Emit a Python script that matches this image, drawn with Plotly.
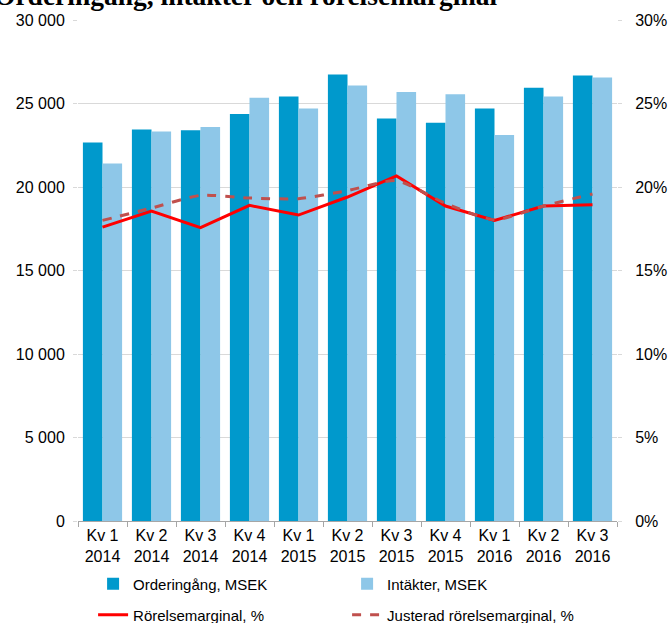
import plotly.graph_objects as go

categories = ["Kv 1<br>2014", "Kv 2<br>2014", "Kv 3<br>2014", "Kv 4<br>2014",
              "Kv 1<br>2015", "Kv 2<br>2015", "Kv 3<br>2015", "Kv 4<br>2015",
              "Kv 1<br>2016", "Kv 2<br>2016", "Kv 3<br>2016"]
orderingang = [22670, 23450, 23400, 24370, 25420, 26740, 24100, 23850, 24700, 25950, 26680]
intakter = [21400, 23330, 23590, 25340, 24700, 26080, 25690, 25560, 23110, 25420, 26550]
rorelsemarginal = [17.6, 18.56, 17.57, 18.9, 18.32, 19.4, 20.66, 18.86, 18.0, 18.86, 18.94]
justerad = [18.0, 18.74, 19.5, 19.34, 19.3, 19.78, 20.38, 19.02, 18.04, 18.86, 19.58]
title_text = "Orderingång, intäkter och rörelsemarginal"

font = "Liberation Sans, Arial, sans-serif"

fig = go.Figure()
fig.add_trace(go.Bar(x=categories, y=orderingang, name="Orderingång, MSEK",
                     marker=dict(color="#0099CC", line=dict(width=0)), legend="legend"))
fig.add_trace(go.Bar(x=categories, y=intakter, name="Intäkter, MSEK",
                     marker=dict(color="#8EC7E8", line=dict(width=0)), legend="legend"))
fig.add_trace(go.Scatter(x=categories, y=rorelsemarginal, name="Rörelsemarginal, %",
                         mode="lines", line=dict(color="#FF0000", width=3),
                         yaxis="y2", legend="legend2"))
fig.add_trace(go.Scatter(x=categories, y=justerad, name="Justerad rörelsemarginal, %",
                         mode="lines", line=dict(color="#C0504D", width=3, dash="dash",
                                                 shape="spline", smoothing=0.6),
                         yaxis="y2", legend="legend2"))

fig.add_annotation(text="<b>" + title_text + "</b>", xref="paper", yref="paper",
                   x=-0.16, y=1 + 25 / 501, xanchor="left", yanchor="middle",
                   showarrow=False,
                   font=dict(family="Liberation Serif, Times New Roman, serif", size=27.5, color="black"))

fig.update_layout(
    width=669, height=623,
    margin=dict(l=78, r=52, t=20, b=102, autoexpand=False),
    plot_bgcolor="white", paper_bgcolor="white",
    separators=", ",
    barmode="group", bargap=0.2, bargroupgap=0,
    font=dict(family=font, size=16, color="black"),
    xaxis=dict(showline=True, linecolor="#A6A6A6", linewidth=1, automargin=False,
               ticks="outside", tickson="boundaries", ticklen=5, tickcolor="#A6A6A6",
               tickfont=dict(size=16)),
    yaxis=dict(range=[0, 30000], dtick=5000, tickformat=",d", automargin=False,
               showgrid=True, gridcolor="#D9D9D9", gridwidth=1,
               zeroline=False, showline=False,
               ticks="outside", ticklen=4, tickcolor="#D9D9D9",
               ticklabelstandoff=5, tickfont=dict(size=16)),
    yaxis2=dict(range=[0, 30], dtick=5, ticksuffix="%", overlaying="y", side="right",
                showgrid=False, zeroline=False, showline=False, automargin=False,
                ticks="outside", ticklen=4, tickcolor="#D9D9D9",
                ticklabelstandoff=10, tickfont=dict(size=16)),
    legend=dict(orientation="h", x=0.028, xanchor="left",
                yref="container", y=39 / 623, yanchor="middle",
                entrywidth=209, entrywidthmode="pixels", font=dict(size=15),
                traceorder="normal", bgcolor="rgba(0,0,0,0)"),
    legend2=dict(orientation="h", x=0.028, xanchor="left",
                 yref="container", y=8 / 623, yanchor="middle",
                 entrywidth=209, entrywidthmode="pixels", font=dict(size=15),
                 traceorder="normal", bgcolor="rgba(0,0,0,0)"),
)

fig.write_html("out.html", config={"displayModeBar": False},
               post_script="document.body.style.margin='0';")
